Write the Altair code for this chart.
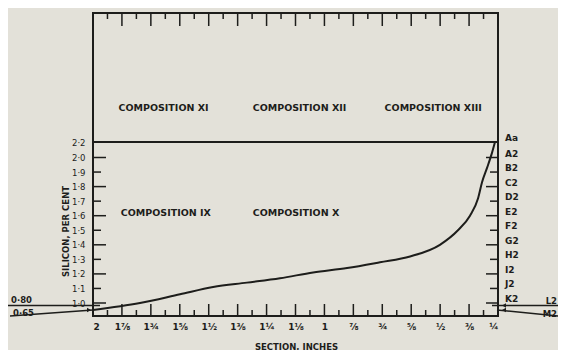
import json
import altair as alt
import pandas as pd

# ---------------- data ----------------
section_ticks = [2.0, 1.875, 1.75, 1.625, 1.5, 1.375, 1.25, 1.125, 1.0,
                 0.875, 0.75, 0.625, 0.5, 0.375, 0.25]
section_labels = ["2", "1⅞", "1¾", "1⅝", "1½", "1⅜", "1¼", "1⅛", "1",
                  "⅞", "¾", "⅝", "½", "⅜", "¼"]

silicon_ticks = [1.0, 1.1, 1.2, 1.3, 1.4, 1.5, 1.6, 1.7, 1.8, 1.9, 2.0, 2.2]
silicon_labels = ["1·0", "1·1", "1·2", "1·3", "1·4", "1·5", "1·6", "1·7",
                  "1·8", "1·9", "2·0", "2·2"]
grade_labels = ["K2", "J2", "I2", "H2", "G2", "F2", "E2", "D2", "C2", "B2",
                "A2", "Aa"]

curve_section = [2.0, 1.797, 1.624, 1.481, 1.335, 1.192, 1.049, 0.902, 0.760,
                 0.630, 0.501, 0.423, 0.371, 0.336, 0.319, 0.297, 0.276, 0.263]
curve_silicon = [0.65, 1.00, 1.06, 1.11, 1.14, 1.17, 1.21, 1.24, 1.28,
                 1.32, 1.40, 1.50, 1.60, 1.72, 1.83, 1.93, 2.06, 2.20]

composition_names = ["COMPOSITION XI", "COMPOSITION XII", "COMPOSITION XIII",
                     "COMPOSITION IX", "COMPOSITION X"]
composition_section = [1.89, 1.31, 0.74, 1.88, 1.31]
composition_silicon = [2.41, 2.41, 2.41, 1.62, 1.62]

marker_values = [0.80, 0.65]
left_marker_labels = ["0·80", "0·65"]
right_marker_labels = ["L2", "M2"]
boundary_silicon = [2.2]

# ---------------- styling ----------------
INK = "#1d1d1b"
PAPER = "#e3e1d9"
FONT = "DejaVu Sans"
W, H = 405, 303

xscale = alt.Scale(domain=[0.25, 2.0], reverse=True, nice=False, zero=False)
# piecewise scale reproducing the drawing's uneven silicon spacing
yscale = alt.Scale(domain=[0.5, 0.65, 0.8, 1.0, 2.0, 2.2, 3.0],
                   range=[303, 297, 292.5, 290, 144.5, 129, 0],
                   nice=False, zero=False)

x_label_expr = (f"{json.dumps(section_labels, ensure_ascii=False)}"
                f"[round((2 - datum.value) * 8)]")
y_label_expr = (f"{json.dumps(silicon_labels, ensure_ascii=False)}"
                f"[indexof({json.dumps([f'{v:.1f}' for v in silicon_ticks])}, format(datum.value, '.1f'))]")

XAXIS = alt.Axis(values=section_ticks, labelExpr=x_label_expr,
                 ticks=False, domain=False, grid=False,
                 labelPadding=6, labelFontSize=9, labelFont=FONT,
                 labelFontWeight="bold", labelColor=INK,
                 title="SECTION, INCHES", titleFontSize=8.5,
                 titleFont=FONT, titleFontWeight="bold",
                 titleColor=INK, titleX=203, titleY=30,
                 titleAlign="center", titleBaseline="middle")
YAXIS = alt.Axis(values=silicon_ticks, labelExpr=y_label_expr,
                 ticks=False, domain=False, grid=False,
                 labelPadding=8, labelFontSize=8.5, labelFont=FONT,
                 labelFontWeight="normal", labelColor=INK,
                 title="SILICON, PER CENT", titleFontSize=8.5,
                 titleFont=FONT, titleFontWeight="bold",
                 titleColor=INK, titleX=-28, titleY=218,
                 titleAngle=-90, titleAlign="center",
                 titleBaseline="middle")


def X(field):
    return alt.X(field, type="quantitative", scale=xscale, axis=XAXIS)


def Y(field):
    return alt.Y(field, type="quantitative", scale=yscale, axis=YAXIS)


curve_df = pd.DataFrame({"section": curve_section, "silicon": curve_silicon,
                         "order": list(range(len(curve_section)))})

curve = alt.Chart(curve_df).mark_line(color=INK, strokeWidth=2,
                                      interpolate="monotone").encode(
    x=X("section"), y=Y("silicon"), order="order:O")


def hrules(values, x0, x1, width=1.5):
    df = pd.DataFrame({"silicon": values})
    return alt.Chart(df).mark_rule(color=INK, strokeWidth=width).encode(
        y=Y("silicon"), x=alt.value(x0), x2=alt.value(x1))


def vrules(values, y0, y1, width=1.5):
    df = pd.DataFrame({"section": values})
    return alt.Chart(df).mark_rule(color=INK, strokeWidth=width).encode(
        x=X("section"), y=alt.value(y0), y2=alt.value(y1))


major_x = section_ticks
minor_x = [(a + b) / 2 for a, b in zip(section_ticks[:-1], section_ticks[1:])]
long_y = [v for v in silicon_ticks if round(v * 10) % 2 == 0 and v < 2.1]
short_y = [v for v in silicon_ticks if round(v * 10) % 2 == 1]

tick_layers = [
    vrules(major_x, H, H - 12), vrules(minor_x, H, H - 6),
    vrules(major_x, 0, 13), vrules(minor_x, 0, 6),
    hrules(long_y, 0, 13), hrules(short_y, 0, 8),
    hrules(long_y, W, W - 12), hrules(short_y, W, W - 8),
]

boundary = alt.Chart(pd.DataFrame({"silicon": boundary_silicon})).mark_rule(
    color=INK, strokeWidth=2).encode(y=Y("silicon"))

grade_df = pd.DataFrame({"silicon": silicon_ticks, "g": grade_labels})
grades = alt.Chart(grade_df).mark_text(
    align="left", baseline="bottom", font=FONT, fontSize=9,
    fontWeight="bold", color=INK, dy=1).encode(
    y=Y("silicon"), x=alt.value(W + 7), text="g:N")

comp_df = pd.DataFrame({"section": composition_section,
                        "silicon": composition_silicon,
                        "t": composition_names})
comps = alt.Chart(comp_df).mark_text(
    align="left", baseline="middle", font=FONT, fontSize=9.5,
    fontWeight="bold", color=INK).encode(
    x=X("section"), y=Y("silicon"), text="t:N")

mk = pd.DataFrame({"silicon": marker_values, "l": left_marker_labels,
                   "r": right_marker_labels})
mk80 = mk.iloc[[0]]
mk65 = mk.iloc[[1]]

left_80 = alt.Chart(mk80).mark_rule(color=INK, strokeWidth=1.5).encode(
    y=Y("silicon"), x=alt.value(-85), x2=alt.value(7))
left_65 = alt.Chart(mk65).mark_rule(color=INK, strokeWidth=1.5).encode(
    y=Y("silicon"), y2=alt.value(H), x=alt.value(0), x2=alt.value(-83))
right_80 = alt.Chart(mk80).mark_rule(color=INK, strokeWidth=1.5).encode(
    y=Y("silicon"), x=alt.value(W - 6), x2=alt.value(W + 70))
right_65 = alt.Chart(mk65).mark_rule(color=INK, strokeWidth=1.5).encode(
    y=Y("silicon"), y2=alt.value(H + 1), x=alt.value(W - 1),
    x2=alt.value(W + 70))
arrow_l = alt.Chart(mk65).mark_point(shape="triangle-right", filled=True,
                                     color=INK, size=22, opacity=1).encode(
    y=Y("silicon"), x=alt.value(-4))
arrow_r = alt.Chart(mk).mark_point(shape="triangle-left", filled=True,
                                   color=INK, size=22, opacity=1).encode(
    y=Y("silicon"), x=alt.value(W + 6))

left_text80 = alt.Chart(mk80).mark_text(
    align="left", baseline="middle", font=FONT, fontSize=8.5,
    fontWeight="bold", color=INK, dy=-6).encode(
    y=Y("silicon"), x=alt.value(-82), text="l:N")
left_text65 = alt.Chart(mk65).mark_text(
    align="left", baseline="middle", font=FONT, fontSize=8.5,
    fontWeight="bold", color=INK, dy=3).encode(
    y=Y("silicon"), x=alt.value(-80), text="l:N")
right_text80 = alt.Chart(mk80).mark_text(
    align="right", baseline="middle", font=FONT, fontSize=8.5,
    fontWeight="bold", color=INK, dy=-5).encode(
    y=Y("silicon"), x=alt.value(W + 59), text="r:N")
right_text65 = alt.Chart(mk65).mark_text(
    align="right", baseline="middle", font=FONT, fontSize=8.5,
    fontWeight="bold", color=INK, dy=4).encode(
    y=Y("silicon"), x=alt.value(W + 59), text="r:N")

chart = alt.layer(
    curve, boundary, *tick_layers, grades, comps,
    left_80, left_65, right_80, right_65, arrow_l, arrow_r,
    left_text80, left_text65, right_text80, right_text65,
).properties(
    width=W, height=H, background=PAPER,
    padding={"left": 85, "top": 5, "right": 60, "bottom": 34},
    autosize=alt.AutoSizeParams(type="none"),
).configure_view(stroke=INK, strokeWidth=2)

chart.save("out.html", embed_options={"renderer": "svg", "actions": False})
